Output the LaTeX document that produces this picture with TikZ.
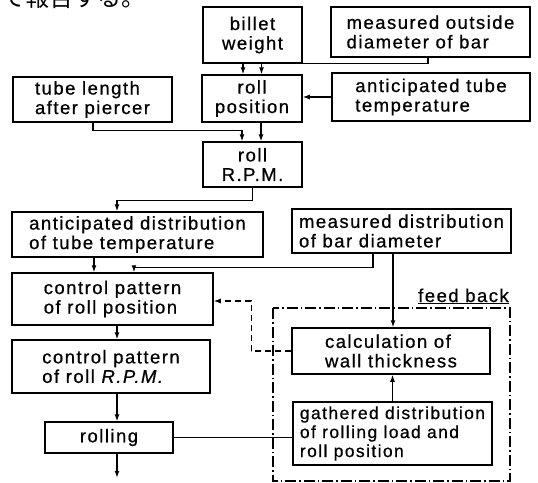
\documentclass[tikz,border=0pt]{standalone}
\usepackage{fontspec}
\setmainfont{Liberation Sans}[LetterSpace=8, FakeBold=0.7]
\newfontfamily\jpfont{Noto Sans CJK JP}
\usetikzlibrary{arrows.meta, positioning, calc}

\tikzset{
    flowbox/.style={draw, line width=1.5pt, inner sep=1pt, align=left},
    flowline/.style={line width=1.2pt},
    flowarrow/.style={flowline, -{Latex[length=7pt, width=5pt]}},
    fbframe/.style={line width=1.3pt, dash pattern=on 11pt off 3pt on 1.5pt off 3pt}
}

\begin{document}
\begin{tikzpicture}[x=1pt, y=-1pt, every node/.style={font=\fontsize{18.5}{19.5}\selectfont}]
                    \useasboundingbox (0,0) rectangle (538,482);
                    \clip (0,0) rectangle (538,482);
                    \node[anchor=base west, font=\jpfont\fontsize{24}{24}\selectfont] (jptext) at (-2,6) {て報告する。};
                    \node[flowbox, align=center, minimum width=99pt, minimum height=56pt] (billet) at (252.5,35) {billet\\weight};
                    \node[flowbox, minimum width=199pt, minimum height=50pt] (measout) at (430.5,32) {measured outside\\diameter of bar};
                    \node[flowbox, minimum width=159pt, minimum height=45pt] (tubelen) at (92.5,99.5) {tube length\\after piercer};
                    \node[flowbox, align=center, minimum width=100pt, minimum height=47pt] (rollpos) at (252,98.5) {roll\\position};
                    \node[flowbox, minimum width=198pt, minimum height=48pt] (anttemp) at (431,97) {anticipated tube\\temperature};
                    \node[flowbox, align=center, minimum width=99pt, minimum height=45pt] (rollrpm) at (252.5,164.5) {roll\\R.P.M.};
                    \node[flowbox, minimum width=251pt, minimum height=45pt] (antdist) at (137.5,234.5) {anticipated distribution\\of tube temperature};
                    \node[flowbox, minimum width=219pt, minimum height=44pt] (measdist) at (401.5,231) {measured distribution\\of bar diameter};
                    \node[flowbox, minimum width=201pt, minimum height=52pt] (ctrlpos) at (112.5,299) {control pattern\\of roll position};
                    \node[flowbox, minimum width=198pt, minimum height=53pt] (ctrlrpm) at (111,366.5) {control pattern\\of roll \textit{R.P.M.}};
                    \node[flowbox, minimum width=128pt, minimum height=31pt] (rolling) at (109,437.5) {rolling};
                    \node[flowbox, minimum width=198pt, minimum height=46pt] (calc) at (391,351) {calculation of\\wall thickness};
                    \node[flowbox, minimum width=199pt, minimum height=63pt, font=\fontsize{17.5}{19}\selectfont] (gathered) at (392.5,433.5) {gathered distribution\\of rolling load and\\roll position};
                    \coordinate (fbnw) at (273,308);
                    \coordinate (fbse) at (510,481);
                    \draw[fbframe] (fbnw) rectangle (fbse);
                    \node[anchor=base east, inner sep=0pt] (fblabel) at (509,302) {\underline{feed back}};
                    \draw[flowarrow] ([xshift=-9.5pt]billet.south) -- ([xshift=-9.5pt]billet.south |- rollpos.north);
                    \draw[flowarrow] ([xshift=-2.5pt]measout.south) -- ++(0,6) -| ([xshift=9.5pt]rollpos.north);
                    \draw[flowarrow] (anttemp.west) -- (anttemp.west -| rollpos.east);
                    \draw[flowarrow] ([xshift=0.5pt]tubelen.south) -- ++(0,8) -| ([xshift=-10.5pt]rollrpm.north);
                    \draw[flowarrow] ([xshift=9pt]rollpos.south) -- ([xshift=9pt]rollpos.south |- rollrpm.north);
                    \draw[flowarrow] (rollrpm.south) -- ++(0,13) -| ([xshift=-20.5pt]antdist.north);
                    \draw[flowarrow] ([xshift=-43.5pt]antdist.south) -- ([xshift=-43.5pt]antdist.south |- ctrlpos.north);
                    \draw[flowarrow] ([xshift=-28.5pt]measdist.south) -- ++(0,14) -| ([xshift=21.5pt]ctrlpos.north);
                    \draw[flowarrow] ([xshift=-8.5pt]measdist.south) -- ([xshift=-8.5pt]measdist.south |- calc.north);
                    \draw[flowarrow, dash pattern=on 6pt off 4pt] (calc.west) -- ++(-40,0) |- ([yshift=-2pt]ctrlpos.east);
                    \draw[flowarrow] (gathered.north) -- (gathered.north |- calc.south);
                    \draw[flowarrow] ([xshift=4.5pt]ctrlpos.south) -- ([xshift=4.5pt]ctrlpos.south |- ctrlrpm.north);
                    \draw[flowarrow] ([xshift=8pt]rolling.north |- ctrlrpm.south) -- ([xshift=8pt]rolling.north);
                    \coordinate (rollout) at ([xshift=8pt, yshift=-24pt]rolling.south);
                    \draw[flowarrow] ([xshift=8pt]rolling.south) -- (rollout);
                    \draw[flowline] (rolling.east) -- (rolling.east -| gathered.west);
                \end{tikzpicture}
\end{document}
